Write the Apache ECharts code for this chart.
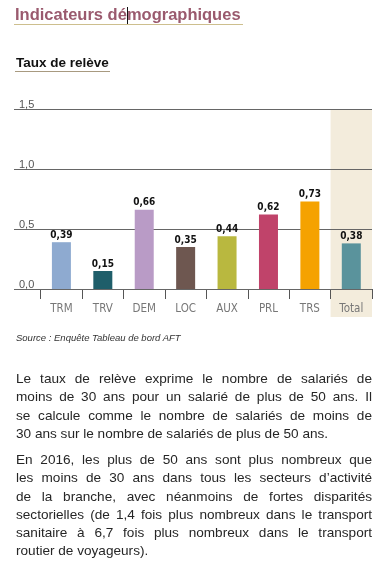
<!DOCTYPE html>
<html>
<head>
<meta charset="utf-8">
<script src="https://cdn.jsdelivr.net/npm/echarts@6/dist/echarts.min.js"></script>
<style>
  html, body { margin: 0; padding: 0; background: #fff; }
  body { width: 384px; height: 574px; position: relative; overflow: hidden; font-family: "Liberation Sans", Arial, sans-serif; }
  #chart { position: absolute; left: 0; top: 0; width: 384px; height: 574px; }
  .title { position: absolute; left: 15px; top: 5px; font-size: 16.5px; font-weight: bold; color: #9a5a6e; line-height: 19px; white-space: nowrap; }
  .title-ul { position: absolute; left: 14px; top: 24px; width: 229px; height: 1px; background: #cdbf8e; }
  .cursor { display: inline-block; width: 0; height: 17px; border-left: 1px solid #111; margin-right: -1px; vertical-align: -4px; }
  .sub { position: absolute; left: 16px; top: 55px; font-size: 13.5px; font-weight: bold; color: #111; line-height: 16px; white-space: nowrap; }
  .sub-ul { position: absolute; left: 15px; top: 71px; width: 95px; height: 1px; background: #a89a80; }
  .src { position: absolute; left: 16px; top: 332px; font-size: 9.5px; font-style: italic; color: #333; white-space: nowrap; }
  .body { position: absolute; left: 16px; width: 356px; font-size: 13.6px; color: #262626; }
  .ln { height: 18.3px; line-height: 18.3px; white-space: nowrap; text-align: justify; text-align-last: justify; }
  .ln.last { text-align-last: left; }
</style>
</head>
<body>
<div id="chart"></div>
<div class="title">Indicateurs dé<span class="cursor"></span>mographiques</div>
<div class="title-ul"></div>
<div class="sub">Taux de relève</div>
<div class="sub-ul"></div>
<div class="src">Source : Enquête Tableau de bord AFT</div>
<div class="body" id="p1" style="top:370px"></div>
<div class="body" id="p2" style="top:451px"></div>
<script>
const categories = ['TRM', 'TRV', 'DEM', 'LOC', 'AUX', 'PRL', 'TRS', 'Total'];
const values = [0.39, 0.15, 0.66, 0.35, 0.44, 0.62, 0.73, 0.38];
const barColors = ['#8eaad0', '#1f5e6a', '#b99bc6', '#6e5750', '#b9b83f', '#c0436a', '#f5a200', '#5a939c'];
const highlight = [null, null, null, null, null, null, null, 1];
const yTicks = { min: 0, max: 1.5, interval: 0.5 };

const para1 = [
  'Le taux de relève exprime le nombre de salariés de',
  'moins de 30 ans pour un salarié de plus de 50 ans. Il',
  'se calcule comme le nombre de salariés de moins de',
  '30 ans sur le nombre de salariés de plus de 50 ans.'
];
const para2 = [
  'En 2016, les plus de 50 ans sont plus nombreux que',
  'les moins de 30 ans dans tous les secteurs d\u2019activité',
  'de la branche, avec néanmoins de fortes disparités',
  'sectorielles (de 1,4 fois plus nombreux dans le transport',
  'sanitaire à 6,7 fois plus nombreux dans le transport',
  'routier de voyageurs).'
];
function fill(id, lines) {
  const el = document.getElementById(id);
  lines.forEach((t, i) => {
    const d = document.createElement('div');
    d.className = 'ln' + (i === lines.length - 1 ? ' last' : '');
    d.textContent = t;
    el.appendChild(d);
  });
}
fill('p1', para1);
fill('p2', para2);

const chart = echarts.init(document.getElementById('chart'), null, { renderer: 'canvas' });
chart.setOption({
  animation: false,
  grid: [
    { left: 14, right: 12, top: 109, height: 180 },
    { left: 40.7, right: 12, top: 109, height: 180 },
    { left: 40.7, right: 12, top: 109, height: 208 }
  ],
  xAxis: [
    { gridIndex: 0, type: 'value', show: false, min: 0, max: 1 },
    {
      gridIndex: 1, type: 'category', data: categories,
      offset: 2,
      axisLine: { show: false },
      axisTick: { show: true, length: 10, lineStyle: { color: '#555', width: 1 } },
      axisLabel: { margin: 12, color: '#777', fontSize: 11.5, fontFamily: '"DejaVu Sans Condensed", "Liberation Sans Narrow", sans-serif' }
    },
    { gridIndex: 2, type: 'category', data: categories, show: false }
  ],
  yAxis: [
    {
      gridIndex: 0, type: 'value', min: yTicks.min, max: yTicks.max, interval: yTicks.interval, z: 3,
      axisLine: { show: false }, axisTick: { show: false },
      splitLine: { show: true, lineStyle: { color: '#666', width: 1 } },
      axisLabel: {
        inside: true, margin: 5, color: '#555', fontSize: 11, verticalAlign: 'bottom', lineHeight: 9,
        fontFamily: '"Liberation Sans", Arial, sans-serif',
        formatter: v => v.toFixed(1).replace('.', ',')
      }
    },
    { gridIndex: 1, type: 'value', min: yTicks.min, max: yTicks.max, show: false, splitLine: { show: false } },
    { gridIndex: 2, type: 'value', min: 0, max: 1, show: false, splitLine: { show: false } }
  ],
  series: [
    {
      type: 'bar', xAxisIndex: 2, yAxisIndex: 2, data: highlight, barWidth: '100%', z: -1,
      itemStyle: { color: '#f3ecdc' }, silent: true
    },
    {
      type: 'bar', xAxisIndex: 1, yAxisIndex: 1, barWidth: 19, z: 5,
      data: values.map((v, i) => ({ value: v, itemStyle: { color: barColors[i] } })),
      label: {
        show: true, position: 'top', distance: 2, color: '#111', fontSize: 10, fontWeight: 'bold',
        fontFamily: '"DejaVu Sans Condensed", "Liberation Sans Narrow", sans-serif',
        formatter: p => p.value.toFixed(2).replace('.', ',')
      }
    }
  ]
});
</script>
</body>
</html>
